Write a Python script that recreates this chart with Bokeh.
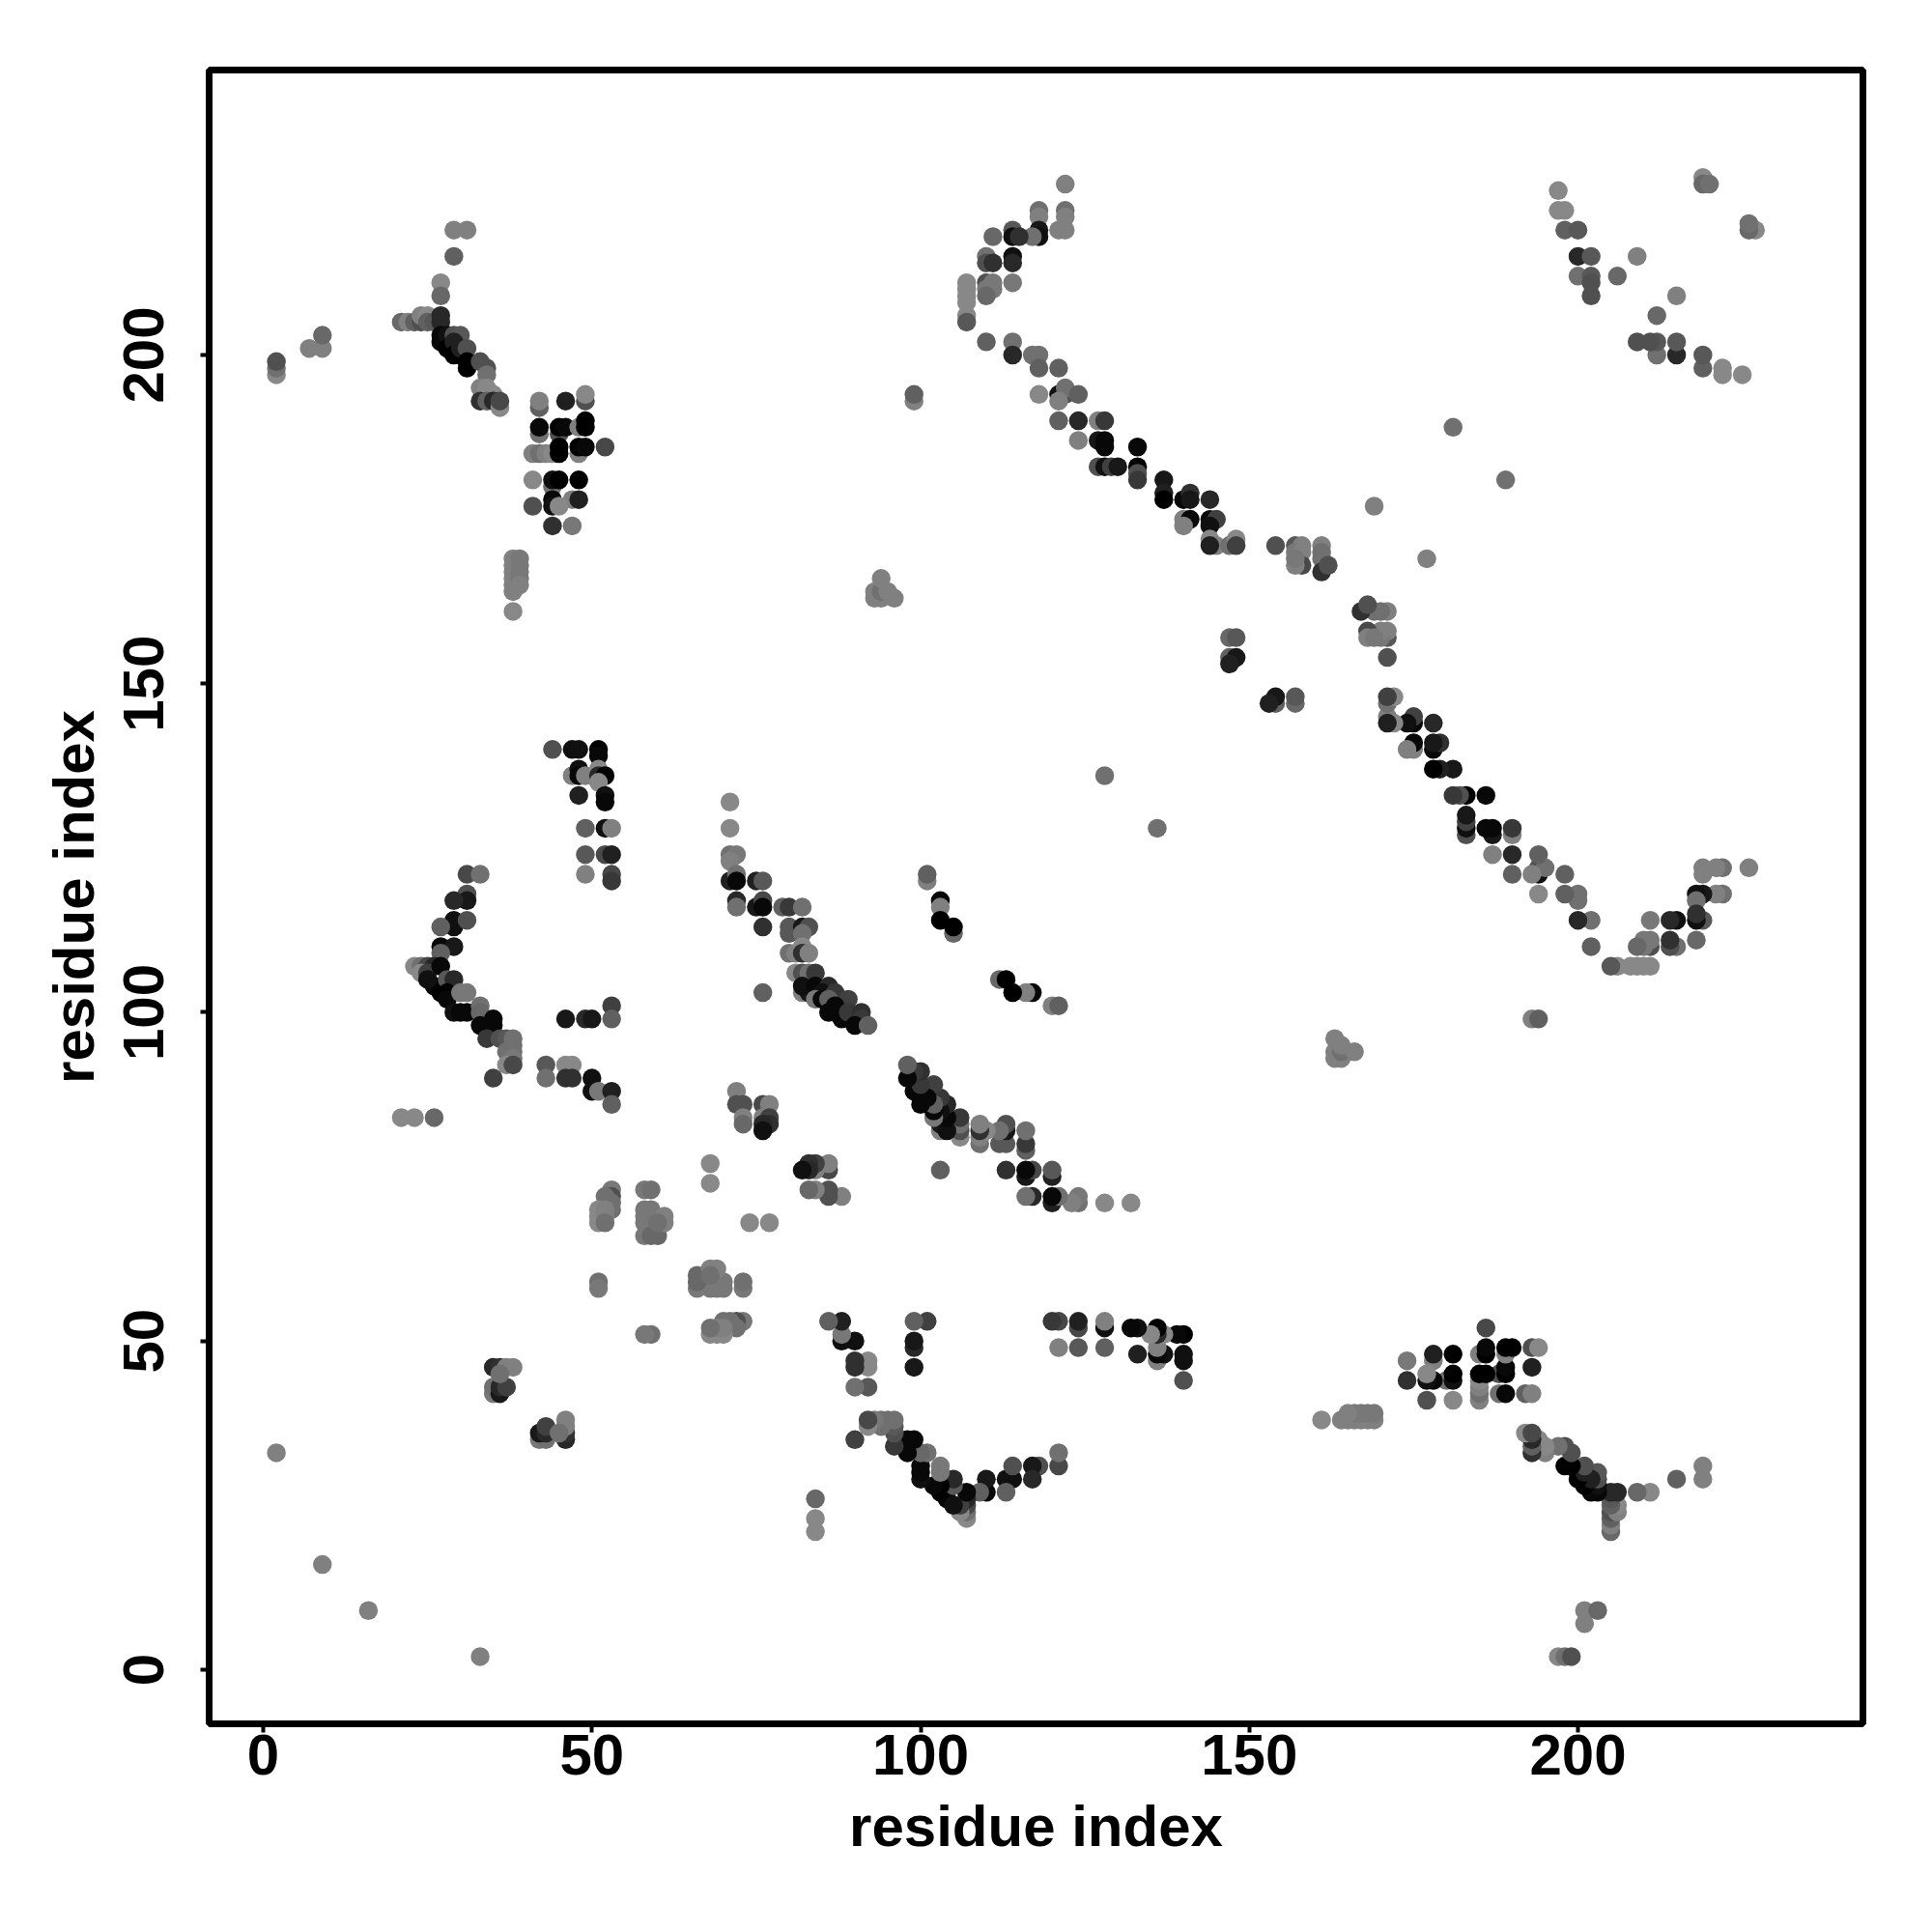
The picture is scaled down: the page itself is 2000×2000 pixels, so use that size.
from bokeh.plotting import figure
from bokeh.models import ColumnDataSource, Range1d, FixedTicker
from bokeh.embed import file_html
from bokeh.resources import INLINE

tick_values = [0, 50, 100, 150, 200]
x_label = "residue index"
y_label = "residue index"

# Contact map: each contact (residue_i < residue_j) with its grey level; plotted on both sides of the diagonal.
residue_i = [
 2,2,2,7,9,9,29,31,29,27,27,
 21,22,23,24,24,25,25,26,
 27,27,27,27,28,29,30,
 28,29,29,30,30,31,31,31,
 33,34,34,33,34,35,33,34,35,36,36,
 42,42,46,49,49,
 42,42,45,45,46,48,49,49,
 52,48,48,49,41,42,43,44,45,45,
 41,44,44,45,48,
 47,48,44,41,44,45,44,47,
 38,38,38,38,38,38,39,39,39,39,39,38,
 99,99,128,181,169,2,9,
 # upper arc
 122,118,118,122,122,122,121,
 118,118,117,114,114,115,111,
 114,114,110,110,111,
 114,110,111,111,110,110,
 107,107,107,107,107,107,
 110,114,114,117,118,118,121,
 118,121,122,122,124,121,
 121,124,127,128,
 124,127,128,128,133,
 127,128,129,130,133,133,133,
 137,137,137,140,141,141,144,
 140,141,140,144,145,144,
 144,145,144,147,148,148,
 154,157,158,157,158,158,157,157,
 161,161,161,161,162,
 147,148,147,148,147,
 # top right
 197,197,198,198,200,200,202,
 200,202,202,202,206,209,
 219,219,220,
 # left arc and blocks
 44,47,48,51,51,
 47,48,48,49,51,51,52,51,
 48,52,52,
 49,52,53,
 49,52,53,
 49,53,53,
 31,33,31,31,29,
 29,29,31,27,
 27,29,27,
 23,24,25,26,24,25,27,
 26,25,27,28,29,28,28,30,31,29,30,31,33,33,33,35,35,
 34,36,37,38,38,38,37,38,37,38,35,
 43,43,46,47,46,47,50,50,51,53,53,
 46,49,50,53,53,
 21,23,26,
 68,68,
 72,72,73,73,73,76,77,76,77,77,76,76,
 # middle band
 71,71,71,72,71,
 71,72,72,72,72,
 75,76,75,76,76,
 76,
 79,80,82,
 80,80,82,83,82,
 80,81,82,82,83,
 81,82,83,84,
 82,83,82,84,86,85,87,84,85,86,89,87,86,88,87,89,91,91,90,92,
 76,
 101,101,103,103,103,105,105,
 93,93,94,94,94,95,96,
 # low clusters
 35,35,35,36,36,36,37,37,38,36,
 53,53,52,53,53,51,51,51,52,52,52,
 58,59,58,59,58,58,58,59,59,60,61,61,60,
 51,51,
]
residue_j = [
 197,198,199,201,201,203,219,219,215,211,209,
 205,205,205,205,206,206,205,205,
 206,205,203,202,203,203,203,
 201,202,200,200,201,201,199,198,
 199,198,197,195,195,194,193,193,193,192,193,
 192,193,193,193,194,
 188,189,188,189,189,189,190,189,
 186,185,186,186,185,185,185,185,186,185,
 181,180,181,181,181,
 178,178,178,177,177,177,174,174,
 169,168,167,166,165,164,169,168,167,166,165,161,
 193,194,136,189,177,33,16,
 226,222,221,222,221,219,219,
 219,218,218,219,218,218,218,
 215,214,215,214,214,
 211,211,211,210,210,209,
 211,210,209,208,206,205,
 202,202,200,200,200,198,198,
 194,194,194,195,194,193,
 190,190,190,190,
 187,187,187,186,186,
 183,183,183,183,183,182,181,
 181,179,178,178,179,178,178,
 175,175,174,175,175,174,
 172,171,171,171,172,171,
 171,171,171,170,170,168,168,169,
 171,170,169,167,168,
 157,157,154,154,153,
 225,222,222,219,219,215,215,
 212,212,211,209,212,215,
 227,226,226,
 140,140,140,140,139,
 136,137,136,136,137,136,136,135,
 133,133,132,
 128,128,128,
 124,124,124,
 121,121,120,
 121,121,118,117,117,
 114,113,114,113,
 110,110,109,
 107,107,107,107,106,106,107,
 104,105,103,105,105,103,102,103,103,100,100,100,101,100,98,99,98,
 96,96,96,96,95,94,94,93,92,92,90,
 92,90,92,92,90,90,90,88,88,88,86,
 99,99,99,101,99,
 84,84,84,
 77,74,
 88,86,86,84,83,86,86,84,84,83,83,82,
 132,128,124,124,123,
 120,121,120,117,116,
 120,120,116,117,116,
 113,
 116,116,116,
 113,112,113,113,112,
 109,109,110,109,109,
 106,106,106,106,
 103,103,104,104,104,103,103,102,102,102,102,101,100,99,100,100,100,99,98,98,
 103,
 120,121,117,116,114,112,113,
 163,164,163,164,166,164,163,
 42,43,46,42,43,46,43,46,46,45,
 73,72,72,71,70,70,69,68,70,69,68,
 73,73,70,70,69,68,66,67,66,66,69,68,68,
 59,58,
]
grey_level = [
 0x88,0x70,0x50,0x80,0x80,0x68,0x80,0x80,0x60,0x88,0x68,
 0x68,0x80,0x60,0x50,0x80,0x88,0x60,0x58,
 0x28,0x28,0x08,0x08,0x10,0x50,0x58,
 0x00,0x20,0x00,0x00,0x20,0x50,0x00,0x00,
 0x50,0x50,0x70,0x80,0x88,0x88,0x30,0x60,0x28,0x88,0x48,
 0x60,0x80,0x20,0x50,0x88,
 0x70,0x08,0x50,0x00,0x08,0x80,0x00,0x00,
 0x48,0x80,0x00,0x08,0x80,0x70,0x80,0x88,0x00,0x00,
 0x88,0x70,0x10,0x00,0x00,
 0x80,0x20,0x08,0x50,0x10,0x88,0x30,0x78,
 0x80,0x80,0x80,0x80,0x80,0x80,0x78,0x78,0x78,0x78,0x80,0x88,
 0x80,0x60,0x70,0x70,0x80,0x80,0x80,
 0x80,0x70,0x80,0x70,0x80,0x80,0x80,
 0x18,0x10,0x70,0x58,0x10,0x30,0x68,
 0x10,0x28,0x70,0x50,0x30,
 0x78,0x50,0x78,0x78,0x78,0x68,
 0x88,0x88,0x88,0x88,0x88,0x58,
 0x60,0x70,0x28,0x70,0x70,0x60,0x60,
 0x88,0x10,0x50,0x70,0x60,0x80,
 0x60,0x28,0x80,0x38,
 0x80,0x18,0x08,0x08,0x08,
 0x50,0x10,0x40,0x18,0x00,0x50,0x38,
 0x18,0x20,0x00,0x08,0x30,0x18,0x28,
 0x80,0x08,0x80,0x08,0x40,0x10,
 0x88,0x80,0x20,0x70,0x88,0x40,
 0x50,0x58,0x80,0x78,0x80,0x48,0x80,0x78,
 0x80,0x70,0x70,0x30,0x50,
 0x68,0x58,0x60,0x18,0x20,
 0x88,0x88,0x88,0x60,0x58,0x28,0x58,
 0x70,0x58,0x50,0x50,0x68,0x80,
 0x88,0x68,0x70,
 0x50,0x10,0x10,0x00,0x08,
 0x80,0x10,0x08,0x80,0x88,0x28,0x00,0x88,
 0x20,0x10,0x08,
 0x60,0x10,0x80,
 0x58,0x48,0x20,
 0x80,0x48,0x38,
 0x48,0x70,0x50,0x18,0x28,
 0x10,0x10,0x50,0x60,
 0x08,0x18,0x60,
 0x88,0x70,0x48,0x28,0x88,0x40,0x08,
 0x08,0x10,0x00,0x58,0x28,0x00,0x08,0x78,0x78,0x10,0x08,0x08,0x70,0x68,0x08,0x08,0x08,
 0x38,0x50,0x58,0x70,0x70,0x70,0x70,0x78,0x88,0x48,0x40,
 0x58,0x70,0x88,0x88,0x30,0x30,0x10,0x10,0x78,0x20,0x60,
 0x18,0x28,0x18,0x40,0x60,
 0x88,0x88,0x68,
 0x88,0x88,
 0x80,0x50,0x50,0x80,0x68,0x48,0x80,0x80,0x40,0x30,0x28,0x10,
 0x88,0x88,0x70,0x78,0x80,
 0x20,0x70,0x08,0x28,0x70,
 0x20,0x58,0x18,0x48,0x08,
 0x30,
 0x60,0x38,0x70,
 0x58,0x58,0x18,0x50,0x70,
 0x70,0x80,0x88,0x30,0x80,
 0x88,0x50,0x70,0x38,
 0x80,0x18,0x10,0x08,0x28,0x10,0x38,0x78,0x08,0x60,0x40,0x08,0x08,0x08,0x08,0x38,0x30,0x38,0x08,0x60,
 0x60,
 0x80,0x60,0x08,0x80,0x00,0x68,0x00,
 0x80,0x80,0x80,0x70,0x80,0x80,0x80,
 0x78,0x70,0x28,0x18,0x28,0x30,0x40,0x80,0x80,0x70,
 0x78,0x50,0x70,0x70,0x70,0x88,0x88,0x88,0x80,0x80,0x70,
 0x78,0x70,0x78,0x78,0x78,0x78,0x78,0x78,0x68,0x68,0x80,0x80,0x70,
 0x70,0x78,
]

assert len(residue_i) == len(residue_j) == len(grey_level)
xs = residue_i + residue_j
ys = residue_j + residue_i
gs = grey_level + grey_level
colors = [f"#{g:02x}{g:02x}{g:02x}" for g in gs]
source = ColumnDataSource(dict(x=xs, y=ys, color=colors))

p = figure(width=1984, height=1984, output_backend="svg", toolbar_location=None,
           frame_width=1712, frame_height=1712,
           x_range=Range1d(-8.23, 243.35), y_range=Range1d(-8.23, 243.35),
           min_border_left=216, min_border_top=72, min_border_right=56, min_border_bottom=200,
           background_fill_color="white", border_fill_color="white")
p.grid.visible = False
p.outline_line_color = "black"
p.outline_line_width = 7
p.scatter("x", "y", source=source, size=19.5, fill_color="color", line_color=None)

for ax in (p.xaxis[0], p.yaxis[0]):
    ax.ticker = FixedTicker(ticks=tick_values)
    ax.minor_tick_line_color = None
    ax.axis_line_color = None
    ax.major_tick_in = 0
    ax.major_tick_out = 9
    ax.major_tick_line_width = 4
    ax.major_tick_line_color = "black"
    ax.major_label_text_font = "Liberation Sans"
    ax.major_label_text_font_style = "bold"
    ax.major_label_text_font_size = "60px"
    ax.major_label_text_color = "black"
    ax.axis_label_text_font = "Liberation Sans"
    ax.axis_label_text_font_style = "bold"
    ax.axis_label_text_font_size = "60px"
    ax.axis_label_text_color = "black"
p.xaxis[0].axis_label = x_label
p.yaxis[0].axis_label = y_label
p.xaxis[0].major_label_standoff = 2
p.xaxis[0].axis_label_standoff = 17
p.yaxis[0].major_label_orientation = "vertical"
p.yaxis[0].major_label_standoff = 38
p.yaxis[0].axis_label_standoff = 16

open("out.html", "w").write(file_html(p, INLINE))
